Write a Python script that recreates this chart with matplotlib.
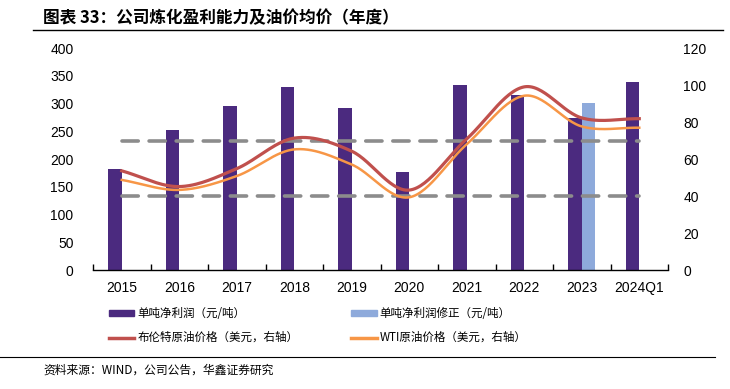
import numpy as np
import matplotlib
matplotlib.use('Agg')
import matplotlib.pyplot as plt
from matplotlib.patches import Patch
from matplotlib.lines import Line2D

plt.rcParams['font.family'] = ['Noto Sans CJK SC', 'DejaVu Sans']

# data
years = ['2015', '2016', '2017', '2018', '2019', '2020', '2021', '2022', '2023', '2024Q1']
profit = [182, 252, 295, 330, 292, 177, 333, 315, 274, 339]
profit_adj = [0, 0, 0, 0, 0, 0, 0, 0, 301, 0]
brent = [53.6, 45.1, 54.8, 71.3, 64.2, 43.2, 70.9, 99.0, 82.2, 81.8]
wti = [48.7, 43.3, 50.8, 65.2, 57.0, 39.3, 68.0, 94.2, 77.6, 76.9]
ref_low = [40] * 10
ref_high = [70] * 10

c_purple = '#4B2A7F'
c_blue = '#8EAADB'
c_red = '#C0504D'
c_orange = '#F79646'
c_gray = '#8C8C8C'


def smooth(x, y, n=30):
    # catmull-rom curve through the points (like excel smoothed lines)
    x = np.asarray(x, float)
    y = np.asarray(y, float)
    px = np.concatenate([[2 * x[0] - x[1]], x, [2 * x[-1] - x[-2]]])
    py = np.concatenate([[2 * y[0] - y[1]], y, [2 * y[-1] - y[-2]]])
    xs, ys = [], []
    t = np.linspace(0, 1, n, endpoint=False)
    for i in range(1, len(px) - 2):
        for p, out in ((px, xs), (py, ys)):
            p0, p1, p2, p3 = p[i - 1], p[i], p[i + 1], p[i + 2]
            out.extend(0.5 * (2 * p1 + (-p0 + p2) * t + (2 * p0 - 5 * p1 + 4 * p2 - p3) * t ** 2
                              + (-p0 + 3 * p1 - 3 * p2 + p3) * t ** 3))
    xs.append(x[-1])
    ys.append(y[-1])
    return np.array(xs), np.array(ys)


fig = plt.figure(figsize=(7.3, 3.89), dpi=100)
ax = fig.add_axes([0.1274, 0.3059, 0.7877, 0.5707])
ax2 = ax.twinx()

x = np.arange(len(years))
w = 0.235
ax.bar(x - w / 2, profit, w, color=c_purple, zorder=2)
ax.bar(x + w / 2, profit_adj, w, color=c_blue, zorder=2)

ax2.plot(x, ref_low, color=c_gray, lw=2.6, dashes=(4.5, 3), dash_capstyle='round')
ax2.plot(x, ref_high, color=c_gray, lw=2.6, dashes=(4.5, 3), dash_capstyle='round')
sx, sy = smooth(x, brent)
ax2.plot(sx, sy, color=c_red, lw=2.3)
sx, sy = smooth(x, wti)
ax2.plot(sx, sy, color=c_orange, lw=1.8)

ax.set_xlim(-0.5, len(years) - 0.5)
ax.set_ylim(0, 400)
ax2.set_ylim(0, 120)
ax.set_yticks(range(0, 401, 50))
ax2.set_yticks(range(0, 121, 20))
ax.set_xticks(x)
ax.set_xticklabels(years)
ax.set_xticks(np.arange(-0.5, len(years), 1), minor=True)

for a in (ax, ax2):
    for s in ('top', 'left', 'right', 'bottom'):
        a.spines[s].set_visible(False)
ax.spines['bottom'].set_visible(True)
ax.spines['bottom'].set_linewidth(1.0)

ax.tick_params(axis='x', which='major', length=0, pad=8, labelsize=10)
ax.tick_params(axis='x', which='minor', direction='in', length=4, width=1)
ax.tick_params(axis='y', length=0, pad=14, labelsize=10)
ax2.tick_params(axis='y', length=0, pad=11, labelsize=10)
for lab in ax.get_xticklabels() + ax.get_yticklabels() + ax2.get_yticklabels():
    lab.set_fontfamily(['Liberation Sans', 'DejaVu Sans'])

# legend is filled column by column, so order: purple, red | blue, orange
handles = [Patch(color=c_purple), Line2D([], [], color=c_red, lw=2.5),
           Patch(color=c_blue), Line2D([], [], color=c_orange, lw=2.5)]
labels = ['单吨净利润（元/吨）', '布伦特原油价格（美元，右轴）',
          '单吨净利润修正（元/吨）', 'WTI原油价格（美元，右轴）']
fig.legend(handles, labels, ncol=2, loc='upper left', bbox_to_anchor=(0.135, 0.237),
           frameon=False, fontsize=8.3, handlelength=2.2, handleheight=0.45,
           columnspacing=4.6, handletextpad=0.25, labelspacing=0.95)

fig.text(0.059, 0.953, '图表 33：公司炼化盈利能力及油价均价（年度）', fontsize=12,
         fontweight='bold', va='center', ha='left')
fig.add_artist(Line2D([0.045, 0.99], [0.923, 0.923], color='black', lw=1.0))
fig.add_artist(Line2D([0.0, 0.98], [0.082, 0.082], color='black', lw=0.8))
fig.text(0.059, 0.048, '资料来源：WIND，公司公告，华鑫证券研究', fontsize=8.5,
         va='center', ha='left')

fig.savefig('out.png', dpi=100)
